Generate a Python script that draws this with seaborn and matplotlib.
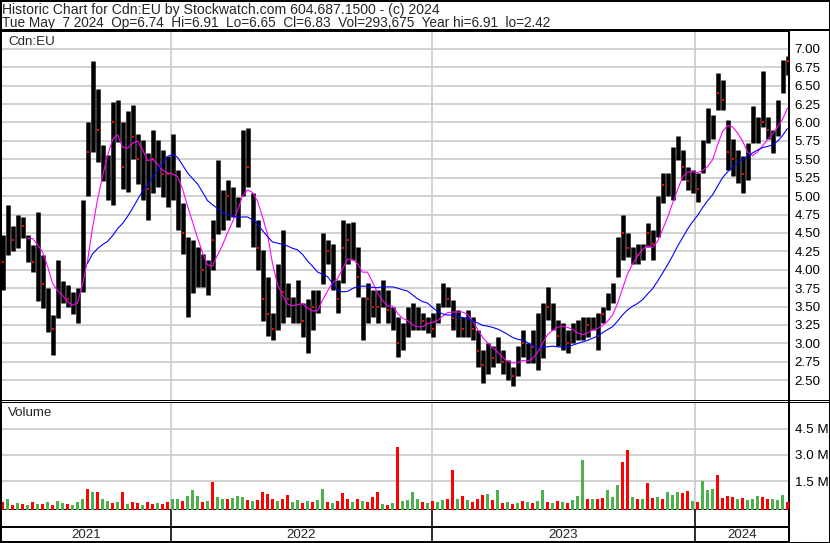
import numpy as np
import pandas as pd
import matplotlib
matplotlib.use("Agg")
import matplotlib.pyplot as plt
import seaborn as sns
from matplotlib.lines import Line2D
from matplotlib.patches import Rectangle
from matplotlib.ticker import FormatStrFormatter

sns.set_style("white")
plt.rcParams['font.family'] = ['Liberation Sans', 'DejaVu Sans']

# ~5 trading days per bar
bar_hi = [4.47, 4.88, 4.60, 4.74, 4.72, 4.47, 4.33, 4.79, 4.20, 3.75,
          3.38, 4.13, 3.84, 3.79, 3.70, 3.75, 4.95, 6.00, 6.83, 6.45,
          5.70, 5.56, 6.28, 6.30, 6.00, 6.15, 6.24, 5.85, 5.76, 5.58,
          5.90, 5.76, 5.63, 5.54, 5.85, 5.35, 4.90, 4.45, 4.40, 4.31,
          4.22, 4.13, 4.67, 5.49, 5.08, 5.22, 5.13, 4.99, 5.90, 5.93,
          5.04, 4.67, 4.27, 3.90, 3.41, 4.08, 4.54, 3.82, 3.63, 3.86,
          3.55, 3.60, 3.72, 3.72, 4.50, 4.40, 4.35, 3.86, 4.67, 4.63,
          4.65, 4.31, 3.63, 3.82, 3.72, 3.72, 3.86, 3.72, 3.50, 3.36,
          3.28, 3.50, 3.55, 3.50, 3.41, 3.36, 3.41, 3.55, 3.82, 3.77,
          3.59, 3.45, 3.36, 3.45, 3.36, 3.18, 2.91, 3.00, 2.96, 3.09,
          2.91, 2.77, 2.68, 2.96, 3.18, 3.00, 3.18, 3.41, 3.55, 3.77,
          3.55, 3.32, 3.27, 3.18, 3.27, 3.32, 3.36, 3.36, 3.36, 3.41,
          3.50, 3.68, 3.82, 4.45, 4.75, 4.50, 4.31, 4.35, 4.35, 4.63,
          4.54, 5.00, 5.31, 5.31, 5.67, 5.82, 5.63, 5.40, 5.36, 5.31,
          5.76, 6.20, 6.10, 6.67, 6.58, 6.04, 5.77, 5.63, 5.54, 5.72,
          6.22, 6.08, 6.70, 6.08, 5.90, 6.30, 6.85, 6.91]
bar_lo = [3.73, 4.20, 4.25, 4.30, 4.43, 4.11, 3.97, 3.57, 3.48, 3.16,
          2.84, 3.34, 3.55, 3.50, 3.40, 3.27, 3.70, 5.00, 5.60, 5.47,
          5.20, 4.95, 4.88, 5.74, 5.10, 5.06, 5.50, 5.17, 4.95, 4.67,
          5.04, 5.13, 4.99, 4.85, 4.95, 4.54, 4.22, 3.36, 3.68, 3.77,
          3.77, 3.66, 4.00, 4.49, 4.54, 4.67, 4.72, 4.58, 5.00, 5.13,
          4.31, 4.00, 3.30, 3.10, 3.05, 3.18, 3.28, 3.36, 3.28, 3.28,
          3.09, 2.87, 3.18, 3.41, 3.80, 4.08, 3.72, 3.41, 3.82, 4.08,
          4.13, 3.63, 3.05, 3.28, 3.36, 3.28, 3.50, 3.28, 3.18, 2.82,
          2.91, 3.09, 3.18, 3.18, 3.18, 3.14, 3.09, 3.28, 3.50, 3.50,
          3.18, 3.09, 3.09, 3.09, 3.05, 2.68, 2.46, 2.59, 2.68, 2.73,
          2.59, 2.50, 2.42, 2.55, 2.82, 2.73, 2.73, 2.64, 2.80, 3.32,
          3.18, 2.96, 2.91, 2.87, 3.00, 3.05, 3.05, 3.09, 3.18, 2.91,
          3.27, 3.45, 3.55, 3.90, 4.13, 4.17, 4.08, 4.08, 4.13, 4.31,
          4.13, 4.45, 4.90, 5.00, 4.95, 5.49, 5.22, 5.08, 5.04, 4.92,
          5.31, 5.72, 5.77, 6.17, 6.17, 5.36, 5.27, 5.18, 5.04, 5.22,
          5.72, 5.72, 5.94, 5.77, 5.58, 5.81, 6.40, 6.65]
bar_close = [4.10, 4.60, 4.40, 4.55, 4.60, 4.30, 4.10, 4.10, 3.80, 3.40,
             3.20, 3.70, 3.70, 3.60, 3.50, 3.60, 4.70, 5.60, 6.40, 5.90,
             5.40, 5.30, 6.00, 6.00, 5.40, 5.80, 5.80, 5.50, 5.30, 5.10,
             5.50, 5.40, 5.30, 5.30, 5.20, 4.90, 4.50, 4.00, 4.00, 4.00,
             4.00, 3.90, 4.40, 4.90, 4.80, 5.00, 4.90, 4.80, 5.60, 5.40,
             4.60, 4.30, 3.60, 3.40, 3.20, 3.70, 3.70, 3.60, 3.45, 3.50,
             3.30, 3.30, 3.50, 3.60, 4.30, 4.25, 4.00, 3.60, 4.30, 4.40,
             4.30, 3.90, 3.30, 3.60, 3.50, 3.50, 3.70, 3.45, 3.30, 3.00,
             3.10, 3.30, 3.35, 3.30, 3.30, 3.25, 3.20, 3.45, 3.70, 3.60,
             3.35, 3.25, 3.20, 3.25, 3.20, 2.90, 2.70, 2.80, 2.80, 2.90,
             2.75, 2.60, 2.55, 2.80, 3.00, 2.85, 2.95, 3.10, 3.30, 3.50,
             3.35, 3.10, 3.05, 3.00, 3.15, 3.20, 3.20, 3.25, 3.30, 3.10,
             3.40, 3.55, 3.70, 4.20, 4.50, 4.30, 4.20, 4.20, 4.25, 4.50,
             4.35, 4.80, 5.15, 5.20, 5.40, 5.60, 5.40, 5.20, 5.20, 5.10,
             5.60, 5.90, 5.95, 6.40, 6.30, 5.60, 5.50, 5.40, 5.30, 5.50,
             6.00, 5.90, 6.00, 5.90, 5.75, 6.10, 6.60, 6.83]
# volume in millions of shares
bar_vol = [0.30, 0.50, 0.15, 0.25, 0.20, 0.15, 0.30, 0.20, 0.20, 0.30,
           0.15, 0.35, 0.25, 0.20, 0.15, 0.30, 0.50, 1.06, 0.85, 0.90,
           0.45, 0.35, 0.25, 0.30, 0.85, 0.20, 0.30, 0.25, 0.15, 0.30,
           0.20, 0.25, 0.20, 0.30, 0.45, 0.50, 0.35, 0.65, 1.00, 0.65,
           0.30, 0.35, 1.46, 0.60, 0.50, 0.45, 0.55, 0.65, 0.60, 0.40,
           0.35, 0.40, 0.90, 0.75, 0.45, 0.35, 0.50, 0.70, 0.30, 0.40,
           0.25, 0.35, 0.30, 0.40, 1.05, 0.30, 0.25, 0.35, 0.80, 0.45,
           0.30, 0.45, 0.35, 0.30, 0.60, 0.90, 0.20, 0.15, 0.25, 3.44,
           0.35, 0.40, 0.90, 0.45, 0.30, 0.25, 0.35, 0.30, 0.40, 0.45,
           2.15, 0.45, 0.65, 0.40, 0.30, 0.45, 0.70, 0.75, 0.40, 1.00,
           0.25, 0.30, 0.20, 0.25, 0.35, 0.30, 0.25, 0.35, 1.00, 0.30,
           0.25, 0.35, 0.30, 0.25, 0.40, 0.65, 2.73, 0.45, 0.50, 0.45,
           0.55, 1.00, 0.60, 1.30, 2.60, 3.30, 0.60, 0.45, 0.50, 1.40,
           0.55, 0.60, 0.50, 0.85, 0.70, 0.85, 0.80, 0.95, 0.35, 0.30,
           1.50, 1.00, 1.05, 1.86, 0.55, 0.65, 0.60, 0.45, 0.55, 0.40,
           0.50, 0.65, 0.60, 0.50, 0.45, 0.40, 0.70, 0.30]
# g = up bar, r = down bar
bar_dir = ("rgrgrgrgrg" "rggrgggrgr" "ggrgrgrrgr" "rgrrggrggg" "rgrggrgggr"
           "grrrrgrrgg" "rgrggrgrrr" "grgrrrgrgr" "ggggrgrggr" "rgrgrrrgrg"
           "rgrgrgrggr" "grgrgggrgr" "rgggrrgrgr" "rgrgggrrgr" "gggrrrrgrg"
           "ggrrgggr")

year_labels = ['2021', '2022', '2023', '2024']
year_breaks = [33.7, 85.9, 138.5]          # bar position where each new year starts
price_ticks = np.arange(2.50, 7.001, 0.25)
vol_ticks = [1.5, 3.0, 4.5]
title1 = "Historic Chart for Cdn:EU by Stockwatch.com 604.687.1500 - (c) 2024"
title2 = "Tue May  7 2024  Op=6.74  Hi=6.91  Lo=6.65  Cl=6.83  Vol=293,675  Year hi=6.91  lo=2.42"

df = pd.DataFrame({'hi': bar_hi, 'lo': bar_lo, 'close': bar_close,
                   'vol': bar_vol, 'dir': list(bar_dir)})
df['i'] = np.arange(len(df))
df['ma_fast'] = df['close'].rolling(6).mean()
df['ma_slow'] = df['close'].rolling(18).mean()

W, H = 830, 543
PX = 72 / 100  # points per pixel
GREEN, RED, GRID = '#4CB04C', '#FF0000', '#C8C8C8'
FS = 9.6

fig = plt.figure(figsize=(W / 100, H / 100), dpi=100)


def box(x0, y0, x1, y1):
    return [x0 / W, 1 - y1 / H, (x1 - x0) / W, (y1 - y0) / H]


ax = fig.add_axes(box(1, 31, 789, 400))
axv = fig.add_axes(box(1, 402, 789, 510), sharex=ax)
axy = fig.add_axes(box(1, 510, 789, 542), sharex=ax)

# price panel
ax.vlines(df['i'], df['lo'], df['hi'], color='black', lw=4.5 * PX, zorder=3)
down = df[df['dir'] == 'r']
ax.scatter(down['i'], down['close'], marker='s', s=3, color=RED, lw=0, zorder=4)
sns.lineplot(data=df, x='i', y='ma_fast', ax=ax, color='#FF00FF', lw=1.1 * PX, zorder=5)
sns.lineplot(data=df, x='i', y='ma_slow', ax=ax, color='#0000FF', lw=1.1 * PX, zorder=5)
ax.set_xlim(-0.3, 157.3)
ax.set_ylim(2.23, 7.243)
ax.set_yticks(price_ticks)
ax.yaxis.set_major_formatter(FormatStrFormatter('%.2f'))
ax.set_xticks(year_breaks)
ax.grid(True, color=GRID, lw=1.6 * PX)
ax.text(7 / 788, 1 - 11 / 369, "Cdn:EU", transform=ax.transAxes,
        fontsize=FS, va='center', ha='left')

# volume panel
vcol = df['dir'].map({'g': GREEN, 'r': RED})
vbase = -0.156
axv.bar(df['i'], df['vol'] - vbase, bottom=vbase, width=0.75, color=vcol, lw=0, zorder=3)
axv.set_ylim(vbase, 6.02)
axv.set_yticks(vol_ticks)
axv.set_yticklabels([f"{v:.1f} M" for v in vol_ticks])
axv.grid(True, color=GRID, lw=1.6 * PX)
axv.text(7 / 788, 1 - 11 / 108, "Volume", transform=axv.transAxes,
         fontsize=FS, va='center', ha='left')

# year strip
axy.set_ylim(0, 1)
for b in year_breaks:
    axy.axvline(b, color='black', lw=1.6 * PX)
axy.axhline(0.47, color='black', lw=2 * PX)
edges = [ax.get_xlim()[0]] + year_breaks + [ax.get_xlim()[1]]
for lab, a, b in zip(year_labels, edges[:-1], edges[1:]):
    axy.text((a + b) / 2, 0.21, lab, ha='center', va='center', fontsize=FS)

for a in (ax, axv, axy):
    a.set_xlabel('')
    a.set_ylabel('')
    a.yaxis.tick_right()
    a.tick_params(length=0, labelsize=FS, pad=4, labelcolor='black')
    a.tick_params(axis='x', labelbottom=False)
    for s in a.spines.values():
        s.set_color('black')
        s.set_linewidth(2 * PX)
ax.spines['bottom'].set_linewidth(1 * PX)
axv.spines['top'].set_linewidth(1 * PX)
axy.spines['top'].set_visible(False)
axy.set_yticks([])

# frame and separators
fig.add_artist(Rectangle((0, 0), 1, 1, transform=fig.transFigure, fill=False,
                         ec='black', lw=3 * PX))
fig.add_artist(Line2D([0, 1], [1 - 30 / H] * 2, transform=fig.transFigure,
                      color='black', lw=2 * PX))
for yy in (400, 402):
    fig.add_artist(Line2D([789 / W, 1], [1 - yy / H] * 2, transform=fig.transFigure,
                          color='black', lw=1 * PX))

fig.text(2 / W, 1 - 14 / H, title1, fontsize=10.1, va='baseline', ha='left')
fig.text(2 / W, 1 - 26.5 / H, title2, fontsize=9.8, va='baseline', ha='left')

fig.savefig("out.png", dpi=100)
